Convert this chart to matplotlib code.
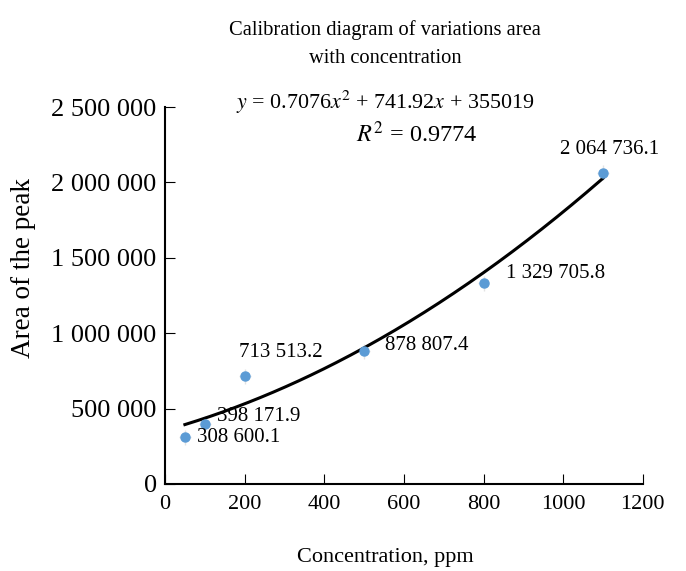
import matplotlib
matplotlib.use("Agg")
import matplotlib.pyplot as plt
import numpy as np

plt.rcParams['font.family'] = ['Liberation Serif', 'DejaVu Serif']
plt.rcParams['mathtext.fontset'] = 'stix'

concentration = [50, 100, 200, 500, 800, 1100]
peak_area = [308600.1, 398171.9, 713513.2, 878807.4, 1329705.8, 2064736.1]
point_labels = ["308 600.1", "398 171.9", "713 513.2", "878 807.4", "1 329 705.8", "2 064 736.1"]
# label offsets (points) and alignment for each data label
label_offsets = [(9, 0), (9, 5), (26, 17), (15, 4), (16, 7), (5, 17)]
label_ha = ["left", "left", "center", "left", "left", "center"]

fit_coef = [0.7076, 741.92, 355019]   # trendline shown on the chart
r_squared = 0.9774

xticks = [0, 200, 400, 600, 800, 1000, 1200]
yticks = [0, 500000, 1000000, 1500000, 2000000, 2500000]
ytick_labels = ["0", "500 000", "1 000 000", "1 500 000", "2 000 000", "2 500 000"]

fig = plt.figure(figsize=(6.86, 5.71), dpi=100)
ax = fig.add_axes([0.2405, 0.1524, 0.6965, 0.6602])

# faint error bars behind the points
ax.errorbar(concentration, peak_area, yerr=50000, xerr=15, fmt='none',
            ecolor='#e3e3e3', elinewidth=1, capsize=0, zorder=1)

xs = np.linspace(concentration[0], concentration[-1], 200)
ax.plot(xs, np.polyval(fit_coef, xs), color='black', lw=2.2, zorder=2)
ax.plot(concentration, peak_area, 'o', color='#5b9bd5', ms=6.5, zorder=3)

for x, y, lab, off, ha in zip(concentration, peak_area, point_labels, label_offsets, label_ha):
    ax.annotate(lab, (x, y), xytext=off, textcoords='offset points',
                ha=ha, va='center', fontsize=15)

ax.set_xlim(0, 1200)
ax.set_ylim(0, 2500000)
ax.set_xticks(xticks)
ax.set_yticks(yticks)
ax.set_yticklabels(ytick_labels)
ax.tick_params(axis='both', direction='in', length=7, width=0.8, pad=6)
ax.tick_params(axis='x', labelsize=16, pad=8)
ax.tick_params(axis='y', labelsize=19, pad=6)
for side in ['top', 'right']:
    ax.spines[side].set_visible(False)
for side in ['left', 'bottom']:
    ax.spines[side].set_linewidth(1.5)

fig.text(0.561, 0.923, "Calibration diagram of variations area\nwith concentration",
         ha='center', va='center', fontsize=14.8, linespacing=1.7)
fig.text(0.561, 0.821, r"$y$ = 0.7076$x^2$ + 741.92$x$ + 355019",
         ha='center', va='center', fontsize=15.8)
fig.text(0.608, 0.765, r"$R^2$ = 0.9774", ha='center', va='center', fontsize=17.5)

fig.text(0.034, 0.531, "Area of the peak", rotation=90, ha='center', va='center', fontsize=19.5)
fig.text(0.561, 0.023, "Concentration, ppm", ha='center', va='center', fontsize=16)

fig.savefig("out.png", dpi=100)
